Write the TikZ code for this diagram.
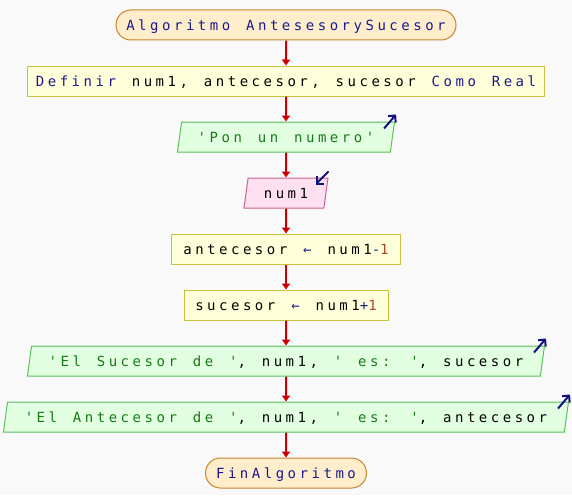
\documentclass[tikz,border=0pt]{standalone}
\usepackage{fontspec}
\newfontfamily\psfont[LetterSpace=25.1,WordSpace={1.33,0,0},Ligatures=TeXOff]{DejaVu Sans Mono}
\usetikzlibrary{positioning,shapes.geometric,shapes.misc,arrows.meta}
\definecolor{bgcol}{HTML}{F9F9F9}
\definecolor{termfill}{HTML}{FFEDCC}
\definecolor{termline}{HTML}{C8862A}
\definecolor{procfill}{HTML}{FFFFDA}
\definecolor{procline}{HTML}{C8C03C}
\definecolor{outfill}{HTML}{E2FFE2}
\definecolor{outline}{HTML}{5CC05C}
\definecolor{infill}{HTML}{FFE0F0}
\definecolor{inline}{HTML}{C86490}
\definecolor{kwcol}{HTML}{1A1A8C}
\definecolor{strcol}{HTML}{177A17}
\definecolor{numcol}{HTML}{B0442A}
\definecolor{flowred}{HTML}{CC0000}
\definecolor{ionavy}{HTML}{101080}
\newcommand{\kw}[1]{\textcolor{kwcol}{#1}}
\newcommand{\strc}[1]{\textcolor{strcol}{#1}}
\newcommand{\numc}[1]{\textcolor{numcol}{#1}}
\tikzset{
  base/.style={font=\psfont\fontsize{14}{16}\selectfont, minimum height=30pt,
    text height=10.2pt, text depth=0pt, inner sep=0pt, line width=1pt},
  term/.style={base, rounded rectangle, draw=termline, fill=termfill},
  proc/.style={base, rectangle, draw=procline, fill=procfill},
  outp/.style={base, trapezium, trapezium left angle=68, trapezium right angle=112,
    trapezium stretches body, draw=outline, fill=outfill},
  inp/.style={outp, draw=inline, fill=infill},
  flow/.style={draw=flowred, line width=2pt, -{Triangle[length=6pt,width=8pt]}},
  io/.style={draw=ionavy, line width=2pt, -{Straight Barb[length=5pt,width=10pt]}}
}
\begin{document}
\begin{tikzpicture}[node distance=25pt]
  \fill[bgcol] (-286pt,25pt) rectangle (286pt,-470pt);
  \useasboundingbox (-286pt,25pt) rectangle (286pt,-470pt);

  \node[term, minimum width=340pt] (start) at (0,0) {\kw{Algoritmo AntesesorySucesor}};
  \node[proc, minimum width=517pt, below=of start] (def) {\kw{Definir} num1, antecesor, sucesor \kw{Como Real}};
  \node[outp, minimum width=217pt, below=of def] (pon) {\strc{'Pon un numero'}};
  \node[inp, minimum width=84pt, below=of pon] (leer) {num1};
  \node[proc, minimum width=228pt, below=of leer] (ante) {antecesor \kw{←} num1\kw{-}\numc{1}};
  \node[proc, minimum width=204pt, below=of ante] (suce) {sucesor \kw{←} num1\kw{+}\numc{1}};
  \node[outp, minimum width=517pt, below=of suce] (msuce) {\strc{'El Sucesor de '}, num1, \strc{' es: '}, sucesor};
  \node[outp, minimum width=565pt, below=of msuce] (mante) {\strc{'El Antecesor de '}, num1, \strc{' es: '}, antecesor};
  \node[term, minimum width=161pt, below=of mante] (fin) {\kw{FinAlgoritmo}};

  % flechas del flujo
  \draw[flow] (start) -- (def);
  \draw[flow] (def) -- (pon);
  \draw[flow] (pon) -- (leer);
  \draw[flow] (leer) -- (ante);
  \draw[flow] (ante) -- (suce);
  \draw[flow] (suce) -- (msuce);
  \draw[flow] (msuce) -- (mante);
  \draw[flow] (mante) -- (fin);

  % marcas de entrada / salida
  \draw[io] ([shift={(-11pt,-7pt)}]pon.top right corner) -- ([shift={(1pt,7pt)}]pon.top right corner);
  \draw[io] ([shift={(0pt,6pt)}]leer.top right corner) -- ([shift={(-13pt,-7pt)}]leer.top right corner);
  \draw[io] ([shift={(-11pt,-7pt)}]msuce.top right corner) -- ([shift={(1pt,7pt)}]msuce.top right corner);
  \draw[io] ([shift={(-11pt,-7pt)}]mante.top right corner) -- ([shift={(1pt,7pt)}]mante.top right corner);
\end{tikzpicture}
\end{document}
